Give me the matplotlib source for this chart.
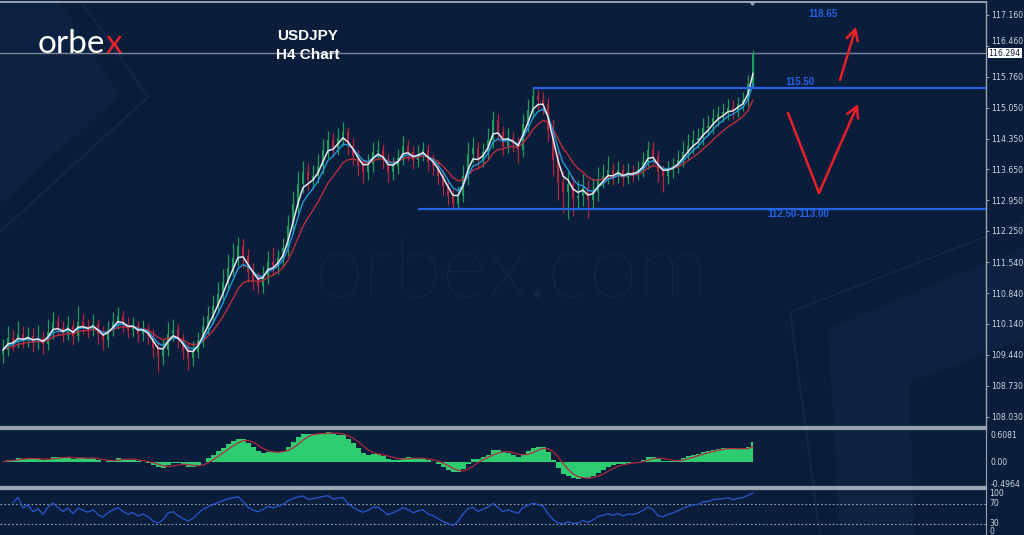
import numpy as np
import pandas as pd
import matplotlib
matplotlib.use('Agg')
import matplotlib.pyplot as plt
from matplotlib.patches import Polygon, FancyArrowPatch
from matplotlib.lines import Line2D
import matplotlib.transforms as mtransforms

# ---------------- data ----------------
closes = [109.55, 109.82, 109.73, 109.91, 109.77, 109.86, 109.73, 109.82, 109.68, 109.95,
          110.18, 110.05, 109.91, 110.09, 109.86, 110.18, 110.09, 110.00, 110.14, 109.91,
          109.77, 110.00, 110.18, 110.32, 110.14, 110.00, 110.09, 109.91, 110.00, 109.86,
          109.59, 109.41, 109.55, 109.91, 110.00, 109.77, 109.55, 109.36, 109.50, 109.77,
          110.09, 110.32, 110.55, 110.82, 111.09, 111.41, 111.64, 111.91, 111.68, 111.32,
          111.14, 111.00, 111.23, 111.55, 111.45, 111.64, 111.86, 112.36, 112.86, 113.32,
          113.59, 113.41, 113.50, 113.73, 114.09, 114.32, 114.14, 114.36, 114.50, 114.18,
          113.95, 113.73, 113.59, 113.77, 114.05, 114.09, 113.86, 113.59, 113.73, 113.91,
          114.18, 114.05, 113.86, 114.00, 114.09, 113.82, 113.73, 113.50, 113.27, 113.05,
          112.86, 113.05, 113.50, 114.00, 114.14, 113.86, 114.05, 114.32, 114.77, 114.50,
          114.18, 114.36, 114.23, 114.09, 114.68, 115.00, 115.32, 115.23, 115.14, 114.55,
          113.86, 113.36, 113.14, 113.32, 113.00, 113.05, 113.23, 112.95, 113.14, 113.41,
          113.50, 113.64, 113.50, 113.64, 113.45, 113.59, 113.55, 113.64, 113.82, 114.09,
          113.95, 113.59, 113.50, 113.64, 113.73, 113.86, 114.05, 114.18, 114.32, 114.36,
          114.59, 114.64, 114.82, 114.91, 114.95, 115.05, 115.00, 115.14, 115.23, 115.59,
          116.29]
highs = [109.80, 110.10, 110.00, 110.20, 110.08, 110.06, 110.05, 110.12, 109.98, 110.25,
         110.42, 110.35, 110.20, 110.32, 110.22, 110.55, 110.36, 110.24, 110.36, 110.26,
         110.08, 110.20, 110.40, 110.52, 110.45, 110.30, 110.30, 110.20, 110.22, 110.14,
         110.02, 109.75, 109.80, 110.18, 110.26, 110.14, 109.92, 109.70, 109.76, 109.96,
         110.32, 110.55, 110.80, 111.10, 111.38, 111.72, 111.98, 112.12, 112.08, 111.85,
         111.52, 111.32, 111.45, 111.80, 111.88, 111.82, 112.10, 112.62, 113.15, 113.62,
         113.85, 113.80, 113.75, 114.00, 114.35, 114.52, 114.48, 114.60, 114.72, 114.62,
         114.36, 114.12, 113.88, 114.00, 114.28, 114.32, 114.22, 114.00, 113.94, 114.12,
         114.40, 114.32, 114.18, 114.20, 114.28, 114.22, 114.00, 113.86, 113.64, 113.42,
         113.20, 113.28, 113.75, 114.28, 114.38, 114.28, 114.26, 114.60, 114.98, 114.90,
         114.64, 114.58, 114.50, 114.38, 114.92, 115.25, 115.50, 115.46, 115.40, 115.28,
         114.80, 114.10, 113.62, 113.60, 113.50, 113.40, 113.55, 113.40, 113.45, 113.70,
         113.78, 113.95, 113.80, 113.85, 113.78, 113.80, 113.75, 113.84, 114.05, 114.30,
         114.28, 114.10, 113.75, 113.85, 113.92, 114.08, 114.30, 114.45, 114.55, 114.60,
         114.82, 114.88, 115.02, 115.10, 115.16, 115.25, 115.22, 115.30, 115.40, 115.80,
         116.36]
lows = [109.25, 109.40, 109.52, 109.58, 109.60, 109.62, 109.50, 109.56, 109.46, 109.55,
        109.80, 109.88, 109.72, 109.78, 109.66, 109.74, 109.90, 109.82, 109.86, 109.68,
        109.55, 109.62, 109.86, 110.02, 109.96, 109.82, 109.84, 109.72, 109.76, 109.66,
        109.38, 109.05, 109.20, 109.40, 109.74, 109.58, 109.34, 109.08, 109.18, 109.36,
        109.62, 109.92, 110.14, 110.38, 110.62, 110.90, 111.22, 111.46, 111.42, 111.10,
        110.92, 110.84, 110.84, 111.04, 111.24, 111.28, 111.46, 111.68, 112.18, 112.66,
        113.12, 113.18, 113.20, 113.34, 113.55, 113.92, 113.94, 113.98, 114.18, 113.98,
        113.74, 113.50, 113.34, 113.40, 113.60, 113.86, 113.66, 113.36, 113.40, 113.55,
        113.74, 113.84, 113.66, 113.70, 113.84, 113.62, 113.52, 113.30, 113.06, 112.84,
        112.75, 112.76, 112.90, 113.30, 113.80, 113.66, 113.70, 113.88, 114.14, 114.30,
        113.98, 114.02, 114.04, 113.80, 113.94, 114.50, 114.82, 115.00, 114.90, 114.30,
        113.50, 112.95, 112.66, 112.52, 112.60, 112.72, 112.82, 112.54, 112.74, 112.94,
        113.22, 113.32, 113.30, 113.34, 113.28, 113.32, 113.36, 113.40, 113.48, 113.66,
        113.74, 113.36, 113.14, 113.32, 113.46, 113.56, 113.70, 113.86, 114.00, 114.14,
        114.20, 114.40, 114.46, 114.64, 114.72, 114.78, 114.80, 114.84, 114.98, 115.10,
        115.50]
first_open = 109.45
last_price = 116.294
levels = [115.50, 112.75]
level_start = [106, 83]
level_labels = ['115.50', '112.50-113.00']
target_label = '118.65'
price_ticks = [117.160, 116.460, 115.760, 115.050, 114.350, 113.650, 112.950,
               112.250, 111.540, 110.840, 110.140, 109.440, 108.730, 108.030]
macd_ticks = [0.6081, 0.00, -0.4964]
macd_tick_labels = ['0.6081', '0.00', '-0.4964']
rsi_levels = [70, 30]
rsi_tick_labels = ['100', '70', '30', '0']

# ---------------- style ----------------
W, H = 1024, 535
BG = '#0a1d3a'
DECOR = '#0d2140'
DECOR_LINE = '#122746'
GRID = '#9aa3b0'
TXT = '#d0d5de'
BULL = '#1f9c5c'
BEAR = '#b3263d'
BLUE = '#2463e6'
RED = '#e8202a'
TICKFONT = ['DejaVu Sans']
TICKSIZE = 5.6

fig = plt.figure(figsize=(W / 100, H / 100), dpi=100, facecolor=BG)


def fx(px):
    return px / W


def fy(py):
    return 1 - py / H


def px_axes(x0, y0, x1, y1):
    a = fig.add_axes([fx(x0), fy(y1), (x1 - x0) / W, (y1 - y0) / H])
    a.set_facecolor('none')
    return a


def fig_poly(pts, color, z=-2):
    p = Polygon([(fx(a), fy(b)) for a, b in pts], closed=True, transform=fig.transFigure,
                facecolor=color, edgecolor='none', zorder=z)
    fig.add_artist(p)


def fig_line(pts, color, lw, z=-2):
    l = Line2D([fx(a) for a, b in pts], [fy(b) for a, b in pts], transform=fig.transFigure,
               color=color, lw=lw, zorder=z, solid_capstyle='round')
    fig.add_artist(l)


# background decorations (watermark shapes)
fig_poly([(0, 0), (58, 0), (120, 95), (0, 205)], DECOR)
fig_line([(80, 0), (148, 97), (0, 232)], DECOR_LINE, 1.6)
fig_poly([(828, 329), (1024, 247), (1024, 339), (909, 382), (915, 535), (840, 535)], '#0e2342')
fig_line([(1024, 222), (790, 312), (820, 535)], DECOR_LINE, 1.6)
fig.text(fx(512), fy(274), 'orbex.com', ha='center', va='center', fontsize=64,
         family=['Lato', 'DejaVu Sans'], fontweight='light', color='#15294a', zorder=-1)

n = len(closes)
x = np.arange(n)
opens = [first_open] + closes[:-1]
s = pd.Series(closes)

# ---------------- main price panel ----------------
ax = px_axes(0, 2, 986, 427)
ax.set_xlim(-0.6, 196.6)
ax.set_ylim(117.50 - 427 / 44, 117.50 - 2 / 44)

cols = [BULL if c >= o else BEAR for o, c in zip(opens, closes)]
ax.vlines(x, lows, highs, colors=cols, lw=0.9, zorder=2)
bottoms = [min(o, c) for o, c in zip(opens, closes)]
heights = [max(abs(c - o), 0.015) for o, c in zip(opens, closes)]
ax.bar(x, heights, bottom=bottoms, width=0.5, color=cols, zorder=2, linewidth=0)

ax.plot(x, s.ewm(span=10, adjust=False).mean(), color='#b8303f', lw=1.0, zorder=3)
ax.plot(x, s.ewm(span=5, adjust=False).mean(), color='#1f9ad8', lw=1.0, zorder=3)
ax.plot(x, s.ewm(span=3, adjust=False).mean(), color='#e6e8ee', lw=1.1, zorder=4)

ax.axhline(last_price, color='#7d8594', lw=1.0, zorder=1)
for lv, st in zip(levels, level_start):
    ax.hlines(lv, st, 196.6, color=BLUE, lw=1.6, zorder=5)

ax.spines['left'].set_visible(False)
ax.spines['top'].set_color(GRID)
ax.spines['top'].set_linewidth(1.4)
ax.spines['bottom'].set_color(GRID)
ax.spines['bottom'].set_linewidth(1.6)
ax.spines['right'].set_color(GRID)
ax.spines['right'].set_linewidth(1.0)
ax.set_xticks([])
ax.yaxis.tick_right()
ax.set_yticks(price_ticks)
ax.set_yticklabels(['%.3f' % t for t in price_ticks], family=TICKFONT)
ax.tick_params(axis='y', colors=GRID, labelcolor=TXT, labelsize=TICKSIZE, length=2.5,
               width=0.8, pad=1)
# the 116.460 label sits just above the current-price box
for lab in ax.get_yticklabels():
    if lab.get_text() == '116.460':
        lab.set_va('bottom')

trans = mtransforms.blended_transform_factory(ax.transAxes, ax.transData)
ax.text(1.0025, last_price, '%.3f' % last_price, transform=trans, ha='left', va='center',
        fontsize=TICKSIZE, color='#0a1d3a', zorder=10, family=TICKFONT,
        bbox=dict(boxstyle='square,pad=0.12', fc='white', ec='none'))

# ---------------- MACD panel ----------------
ax2 = px_axes(0, 429, 986, 487)
ema_fast = s.ewm(span=6, adjust=False).mean()
ema_slow = s.ewm(span=13, adjust=False).mean()
macd = ema_fast - ema_slow
signal = macd.rolling(4, min_periods=1).mean()
ax2.fill_between(x, 0, macd, step='mid', color='#2ecc71', lw=0, zorder=2)
ax2.plot(x, signal, color='#b02a40', lw=0.9, zorder=3)
ax2.set_xlim(-0.6, 196.6)
ax2.set_ylim(-(487 - 461.7) / 44.4, (461.7 - 429) / 44.4)
ax2.spines['left'].set_visible(False)
for side in ['top', 'bottom']:
    ax2.spines[side].set_color(GRID)
    ax2.spines[side].set_linewidth(1.6)
ax2.spines['right'].set_color(GRID)
ax2.set_xticks([])
ax2.yaxis.tick_right()
ax2.set_yticks(macd_ticks)
ax2.set_yticklabels(macd_tick_labels, family=TICKFONT)
ax2.tick_params(axis='y', colors=GRID, labelcolor=TXT, labelsize=TICKSIZE, length=0, pad=3)

# ---------------- RSI panel ----------------
ax3 = px_axes(0, 489, 986, 535)
delta = s.diff()
up = delta.clip(lower=0).ewm(alpha=1 / 9, adjust=True).mean()
down = (-delta.clip(upper=0)).ewm(alpha=1 / 9, adjust=True).mean()
rsi = 100 - 100 / (1 + up / down)
ax3.plot(x[2:], rsi[2:], color='#2758d2', lw=0.9, zorder=3)
for lv in rsi_levels:
    ax3.axhline(lv, color=GRID, lw=0.8, ls=(0, (1.5, 2)), zorder=1)
ax3.set_xlim(-0.6, 196.6)
ax3.set_ylim(8, 100)
ax3.spines['left'].set_visible(False)
ax3.spines['bottom'].set_visible(False)
ax3.spines['top'].set_color(GRID)
ax3.spines['top'].set_linewidth(1.6)
ax3.spines['right'].set_color(GRID)
ax3.set_xticks([])
ax3.set_yticks([])
for lab, yy in zip(rsi_tick_labels, [494, 504, 524, 531]):
    fig.text(fx(989), fy(yy), lab, ha='left', va='center', fontsize=TICKSIZE, color=TXT,
             family=TICKFONT)

# chart-shift marker
fig_poly([(748, 1), (757, 1), (752.5, 6)], '#9aa3b0', z=5)

# ---------------- annotations ----------------
lab_kw = dict(ha='center', va='center', fontsize=7, fontweight='bold', color=BLUE,
              family=['Liberation Sans', 'DejaVu Sans'])
fig.text(fx(823), fy(14), target_label, **lab_kw)
fig.text(fx(800), fy(82), level_labels[0], **lab_kw)
fig.text(fx(798), fy(214), level_labels[1], **lab_kw)

arrow_kw = dict(arrowstyle='->,head_length=0.55,head_width=0.3', color=RED, lw=1.8,
                mutation_scale=14, shrinkA=0, shrinkB=0)
fig.add_artist(FancyArrowPatch((fx(840), fy(80)), (fx(856), fy(27)),
                               transform=fig.transFigure, **arrow_kw))
fig_line([(788, 113), (819, 193)], RED, 1.8, z=6)
fig.add_artist(FancyArrowPatch((fx(819), fy(193)), (fx(858), fy(104)),
                               transform=fig.transFigure, **arrow_kw))

# ---------------- title & logo ----------------
title_kw = dict(ha='center', va='center', fontsize=11, fontweight='bold', color='white',
                family=['Liberation Sans', 'DejaVu Sans'])
fig.text(fx(308), fy(36), 'USDJPY', **title_kw)
fig.text(fx(308), fy(55), 'H4 Chart', **title_kw)

logo_kw = dict(ha='left', va='baseline', fontsize=24, fontweight='normal',
               family=['Lato', 'DejaVu Sans'])
t1 = fig.text(fx(38), fy(53), 'orbe', color='white', **logo_kw)
fig.canvas.draw()
bb = t1.get_window_extent()
fig.text(bb.x1 / W, fy(53), 'x', color=RED, **logo_kw)

fig.savefig('out.png', dpi=100, facecolor=BG)
